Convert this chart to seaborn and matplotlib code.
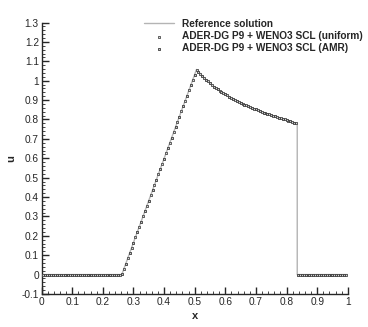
import pandas as pd
import matplotlib
matplotlib.use("Agg")
import matplotlib.pyplot as plt
from matplotlib.ticker import MultipleLocator, FormatStrFormatter
import seaborn as sns

# reference solution (polyline)
ref_x = [0.0, 0.262, 0.506, 0.53125, 0.55625, 0.58125, 0.60625, 0.63125, 0.66875,
         0.70625, 0.74375, 0.78125, 0.81875, 0.835, 0.835, 1.0]
ref_u = [0.0, 0.0, 1.058, 1.014, 0.978, 0.949, 0.924, 0.902, 0.873,
         0.848, 0.826, 0.806, 0.787, 0.780, 0.0, 0.0]

# uniform mesh points
uni_x = [0.00625, 0.01875, 0.03125, 0.04375, 0.05625, 0.06875, 0.08125, 0.09375,
         0.10625, 0.11875, 0.13125, 0.14375, 0.15625, 0.16875, 0.18125, 0.19375,
         0.20625, 0.21875, 0.23125, 0.24375, 0.25625,
         0.26875, 0.28125, 0.29375, 0.30625, 0.31875, 0.33125, 0.34375, 0.35625,
         0.36875, 0.38125, 0.39375, 0.40625, 0.41875, 0.43125, 0.44375, 0.45625,
         0.46875, 0.48125, 0.49375,
         0.50625, 0.51875, 0.53125, 0.54375, 0.55625, 0.56875, 0.58125, 0.59375,
         0.60625, 0.61875, 0.63125, 0.64375, 0.65625, 0.66875, 0.68125, 0.69375,
         0.70625, 0.71875, 0.73125, 0.74375, 0.75625, 0.76875, 0.78125, 0.79375,
         0.80625, 0.81875, 0.83125,
         0.84375, 0.85625, 0.86875, 0.88125, 0.89375, 0.90625, 0.91875, 0.93125,
         0.94375, 0.95625, 0.96875, 0.98125, 0.99375]
uni_u = [0.0, 0.0, 0.0, 0.0, 0.0, 0.0, 0.0, 0.0, 0.0, 0.0, 0.0, 0.0, 0.0, 0.0,
         0.0, 0.0, 0.0, 0.0, 0.0, 0.0, 0.0,
         0.029, 0.083, 0.138, 0.192, 0.246, 0.300, 0.355, 0.409, 0.463, 0.517,
         0.571, 0.626, 0.680, 0.734, 0.788, 0.842, 0.897, 0.951, 1.005,
         1.055, 1.034, 1.014, 0.996, 0.978, 0.962, 0.949, 0.936, 0.924, 0.913,
         0.902, 0.892, 0.882, 0.873, 0.864, 0.856, 0.848, 0.840, 0.833, 0.826,
         0.819, 0.812, 0.806, 0.800, 0.793, 0.787, 0.781,
         0.0, 0.0, 0.0, 0.0, 0.0, 0.0, 0.0, 0.0, 0.0, 0.0, 0.0, 0.0, 0.0]

# AMR points
amr_x = [0.0125, 0.025, 0.0375, 0.05, 0.0625, 0.075, 0.0875, 0.1, 0.1125, 0.125,
         0.1375, 0.15, 0.1625, 0.175, 0.1875, 0.2, 0.2125, 0.225, 0.2375, 0.25,
         0.2625,
         0.275, 0.2875, 0.3, 0.3125, 0.325, 0.3375, 0.35, 0.3625, 0.375, 0.3875,
         0.4, 0.4125, 0.425, 0.4375, 0.45, 0.4625, 0.475, 0.4875, 0.5,
         0.5125, 0.525, 0.5375, 0.55, 0.5625, 0.575, 0.5875, 0.6, 0.6125, 0.625,
         0.6375, 0.65, 0.6625, 0.675, 0.6875, 0.7, 0.7125, 0.725, 0.7375, 0.75,
         0.7625, 0.775, 0.7875, 0.8, 0.8125, 0.825,
         0.8375, 0.85, 0.8625, 0.875, 0.8875, 0.9, 0.9125, 0.925, 0.9375, 0.95,
         0.9625, 0.975, 0.9875]
amr_u = [0.0, 0.0, 0.0, 0.0, 0.0, 0.0, 0.0, 0.0, 0.0, 0.0, 0.0, 0.0, 0.0, 0.0,
         0.0, 0.0, 0.0, 0.0, 0.0, 0.0, 0.002,
         0.056, 0.111, 0.165, 0.219, 0.273, 0.327, 0.381, 0.436, 0.490, 0.544,
         0.598, 0.652, 0.707, 0.761, 0.815, 0.869, 0.923, 0.977, 1.032,
         1.044, 1.024, 1.005, 0.987, 0.970, 0.955, 0.942, 0.930, 0.918, 0.907,
         0.897, 0.887, 0.877, 0.868, 0.860, 0.852, 0.844, 0.836, 0.829, 0.822,
         0.816, 0.809, 0.803, 0.796, 0.790, 0.784,
         0.0, 0.0, 0.0, 0.0, 0.0, 0.0, 0.0, 0.0, 0.0, 0.0, 0.0, 0.0, 0.0]

labels = ["Reference solution",
          "ADER-DG P9 + WENO3 SCL (uniform)",
          "ADER-DG P9 + WENO3 SCL (AMR)"]

sns.set_style("ticks")
plt.rcParams["font.family"] = ["Liberation Sans", "DejaVu Sans"]

ref = pd.DataFrame({"x": ref_x, "u": ref_u})
uni = pd.DataFrame({"x": uni_x, "u": uni_u})
amr = pd.DataFrame({"x": amr_x, "u": amr_u})

fig = plt.figure(figsize=(3.68, 3.27), dpi=100)
ax = fig.add_axes([0.113, 0.101, 0.832, 0.830])

sns.lineplot(data=ref, x="x", y="u", ax=ax, color="#b4b4b4", linewidth=1.0,
             estimator=None, sort=False, label=labels[0])
sns.scatterplot(data=uni, x="x", y="u", ax=ax, marker="s", s=4.5,
                facecolor="#d8d8d8", edgecolor="#4a4a4a", linewidth=0.6,
                label=labels[1], zorder=3)
sns.scatterplot(data=amr, x="x", y="u", ax=ax, marker="s", s=4.5,
                facecolor="#c8c8c8", edgecolor="#3a3a3a", linewidth=0.6,
                label=labels[2], zorder=3)

ax.set_xlim(0, 1)
ax.set_ylim(-0.1, 1.3)
ax.xaxis.set_major_locator(MultipleLocator(0.1))
ax.xaxis.set_minor_locator(MultipleLocator(0.02))
ax.yaxis.set_major_locator(MultipleLocator(0.1))
ax.yaxis.set_minor_locator(MultipleLocator(0.02))
ax.xaxis.set_major_formatter(FormatStrFormatter("%g"))
ax.yaxis.set_major_formatter(FormatStrFormatter("%g"))
ax.tick_params(which="major", direction="in", length=5, width=1, labelsize=7.3, pad=2)
ax.tick_params(which="minor", direction="in", length=2.5, width=0.6)
sns.despine(ax=ax)
ax.spines["left"].set_linewidth(1)
ax.spines["bottom"].set_linewidth(1)

ax.set_xlabel("x", fontsize=8, fontweight="bold", labelpad=3)
ax.set_ylabel("u", fontsize=8, fontweight="bold", labelpad=4)

ax.legend(loc="upper left", bbox_to_anchor=(0.39, 0.942), bbox_transform=fig.transFigure,
          frameon=False, prop={"weight": "bold", "size": 7.3},
          handlelength=3.0, handletextpad=0.75, labelspacing=0.22,
          borderpad=0, borderaxespad=0, markerscale=0.8)

fig.savefig("out.png", dpi=100)
